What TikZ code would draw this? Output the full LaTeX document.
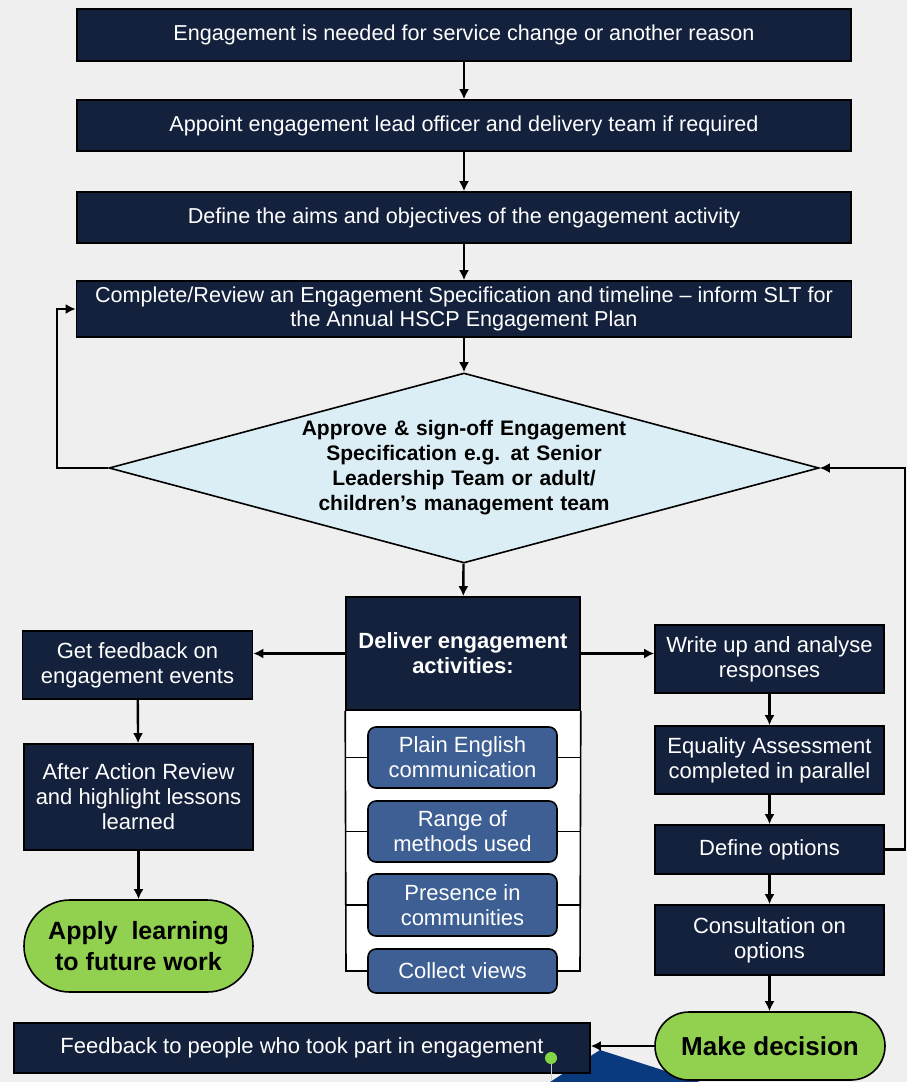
\documentclass[tikz,border=0pt]{standalone}
\usepackage{fontspec}
\setmainfont{Liberation Sans}
\usetikzlibrary{shapes.geometric,arrows.meta}
\definecolor{fundo}{HTML}{EFEFEF}
\definecolor{navy}{HTML}{13213D}
\definecolor{pale}{HTML}{DCEEF5}
\definecolor{midblue}{HTML}{3D5F93}
\definecolor{lime}{HTML}{92D050}
\definecolor{wedgeblue}{HTML}{0A3A7E}
\begin{document}
\begin{tikzpicture}[x=0.5pt,y=-0.5pt,
		box/.style={draw=black,line width=0.8pt,fill=navy,text=white,inner sep=0pt,align=center},
		sub/.style={draw=black,line width=0.8pt,fill=midblue,text=white,rounded corners=4pt,inner sep=0pt,align=center,
			minimum width=94.5pt,font=\fontsize{11}{12.5}\selectfont},
		term/.style={draw=black,line width=0.8pt,fill=lime,text=black,rounded corners=17pt,inner sep=0pt,align=center,
			font=\bfseries\fontsize{12.5}{15.5}\selectfont},
		arr/.style={-{Latex[length=5pt,width=5pt]},line width=1.2pt},
		wire/.style={line width=0.8pt}]
					\useasboundingbox (0,0) rectangle (907,1082);
					\fill[fundo] (0,0) rectangle (907,1082);
					
					% Coluna central
					\node[box,minimum width=387pt,minimum height=26pt,font=\fontsize{10.8}{12}\selectfont] (need) at (464,35) {Engagement is needed for service change or another reason};
					\node[box,minimum width=387pt,minimum height=25.5pt,font=\fontsize{10.8}{12}\selectfont] (lead) at (464,125.5) {Appoint engagement lead officer and delivery team if required};
					\node[box,minimum width=387pt,minimum height=25.5pt,font=\fontsize{10.8}{12}\selectfont] (aims) at (464,217.5) {Define the aims and objectives of the engagement activity};
					\node[box,minimum width=387.5pt,minimum height=28pt,font=\fontsize{10.8}{12}\selectfont] (spec) at (464,309) {Complete/Review an Engagement Specification and timeline -- inform SLT for\\ the Annual HSCP Engagement Plan};
					\node[diamond,draw=black,line width=0.8pt,fill=pale,aspect=3.74,inner sep=0pt,minimum width=355pt,minimum height=95pt,
						text width=172pt,align=center,font=\bfseries\fontsize{10.5}{12.5}\selectfont] (appr) at (464,468)
						{Approve \& sign-off Engagement\\ Specification e.g. at Senior\\ Leadership Team or adult/\\ children's management team};
					
					\foreach \a/\b in {need/lead,lead/aims,aims/spec,spec/appr}{
						\draw[arr] (\a) -- (\b);
					}
					
					% Voltas
					\draw[arr] (appr.west) -- ++(-51,0) |- (spec.west);
					
					% Atividades
					\fill[white] (346,710) rectangle (580,972);
					\node[box,minimum width=117pt,minimum height=56.5pt,font=\bfseries\fontsize{11}{12.5}\selectfont] (deliv) at (463,653.5) {Deliver engagement\\ activities:};
					\node[sub,minimum height=30.5pt] (plain) at (462.5,757.5) {Plain English\\ communication};
					\node[sub,minimum height=30.5pt] (range) at (462.5,831.5) {Range of\\ methods used};
					\node[sub,minimum height=31pt] (pres) at (462.5,905) {Presence in\\ communities};
					\node[sub,minimum height=22pt] (coll) at (462.5,971) {Collect views};
					\draw[wire] (deliv.south west) -- (346,971);
					\draw[wire] (deliv.south east) -- (580,971);
					\foreach \s in {plain,range,pres,coll}{
						\draw[wire] (deliv.south west |- \s.west) -- (\s.west);
						\draw[wire] (\s.east) -- (deliv.south east |- \s.east);
					}
					\draw[arr] (appr) -- (deliv);
					
					% Coluna esquerda
					\node[box,minimum width=115pt,minimum height=34pt,font=\fontsize{11}{12.5}\selectfont] (feed) at (137.5,665) {Get feedback on\\ engagement events};
					\node[box,minimum width=114.5pt,minimum height=53pt,font=\fontsize{11}{12.5}\selectfont] (aar) at (138.5,797) {After Action Review\\ and highlight lessons\\ learned};
					\node[term,minimum width=114.5pt,minimum height=46pt,rounded corners=23pt] (apply) at (138.5,946) {Apply\ \ learning\\ to future work};
					\draw[arr] (deliv.west) -- (deliv.west -| feed.east);
					\draw[arr] (feed) -- (aar);
					\draw[arr] (aar) -- (apply);
					
					% Coluna direita
					\node[box,minimum width=114.5pt,minimum height=34pt,font=\fontsize{11}{12.5}\selectfont] (write) at (769.5,659) {Write up and analyse\\ responses};
					\node[box,minimum width=114.5pt,minimum height=34pt,font=\fontsize{11}{12.5}\selectfont] (equal) at (769.5,760) {Equality Assessment\\ completed in parallel};
					\node[box,minimum width=114.5pt,minimum height=24.5pt,font=\fontsize{11}{12.5}\selectfont] (opts) at (769.5,849.5) {Define options};
					\node[box,minimum width=114.5pt,minimum height=35pt,font=\fontsize{11}{12.5}\selectfont] (cons) at (769.5,940) {Consultation on\\ options};
					\draw[arr] (deliv.east) -- (deliv.east -| write.west);
					\draw[arr] (write) -- (equal);
					\draw[arr] (equal) -- (opts);
					\draw[arr] (opts) -- (cons);
					\draw[arr] (opts.east) -- ++(20,0) |- (appr.east);
					
					% Fim
					\fill[wedgeblue] (550,1082) -- (600,1050) -- (700,1082) -- cycle;
					\node[box,minimum width=288pt,minimum height=25pt,font=\fontsize{11}{12}\selectfont] (back) at (302,1048) {Feedback to people who took part in engagement};
					\node[term,minimum width=115pt,minimum height=34pt,font=\bfseries\fontsize{13}{15.5}\selectfont] (dec) at (770,1046) {Make decision};
					\draw[arr] (cons) -- (cons |- dec.north);
					\draw[arr] (dec.west) -- (dec.west -| back.east);
					\draw[white!80!black,line width=0.4pt] (551,1058) -- (551,1080);
					\fill[lime!90!green] (551,1058) circle (3pt);
				\end{tikzpicture}
\end{document}
